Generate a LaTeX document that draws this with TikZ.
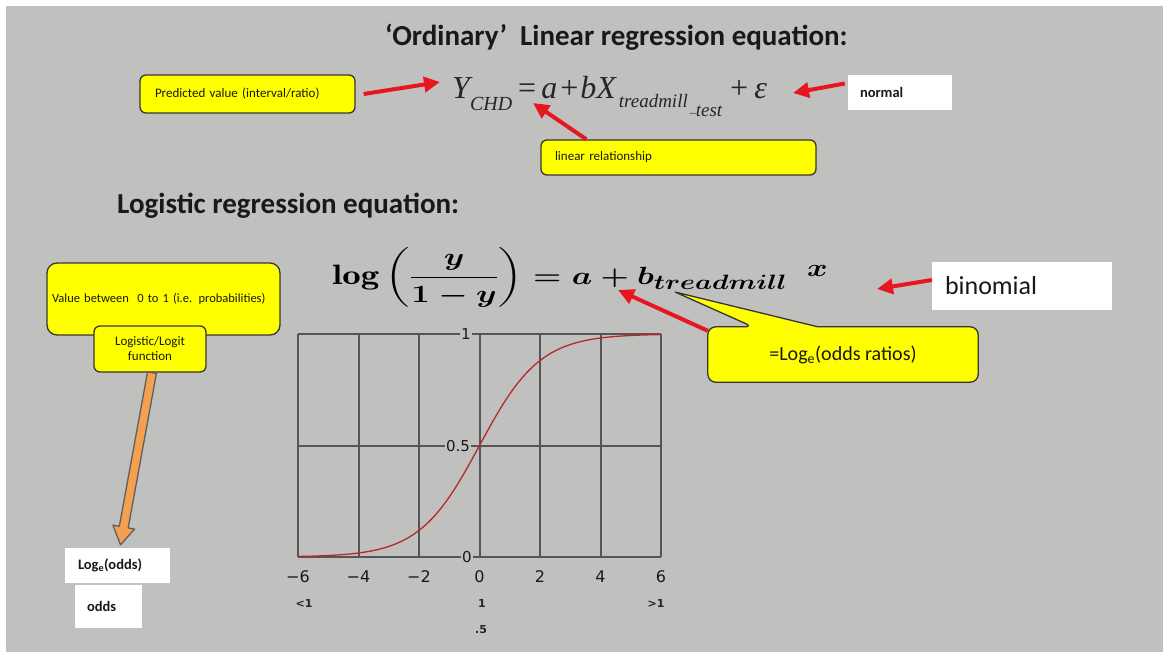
\documentclass[tikz,border=0pt]{standalone}
\usepackage{fontspec}
\usepackage{amsmath}
\usepackage{graphicx}
\usetikzlibrary{arrows.meta,calc}
\newfontfamily\calfont{Carlito}
\newfontfamily\dvfont{DejaVu Sans}
\newfontfamily\tmsfont{Liberation Serif}
\definecolor{bgc}{RGB}{192,192,191}
\definecolor{ylw}{RGB}{255,255,0}
\definecolor{bord}{RGB}{55,55,50}
\definecolor{arrred}{RGB}{232,22,32}
\definecolor{gridc}{RGB}{85,85,85}
\definecolor{curvec}{RGB}{185,40,40}
\definecolor{orng}{RGB}{244,160,80}
\definecolor{ogray}{RGB}{95,95,95}
\definecolor{txt}{RGB}{25,25,20}
\pgfdeclarelayer{back}\pgfdeclarelayer{mid}\pgfsetlayers{back,mid,main}
\newsavebox\eqAbox
\newsavebox\eqBbox
\newsavebox\eqCbox
\begin{document}
\sbox\eqAbox{\fontsize{28}{34}\selectfont\mathversion{bold}\scalebox{1.32}[1]{$\displaystyle\log\left(\frac{y}{1-y}\right)$}}%
\sbox\eqBbox{\fontsize{28}{34}\selectfont\mathversion{bold}\scalebox{1.3}[1]{$=a+b_{treadmill}$}}%
\sbox\eqCbox{\fontsize{30}{34}\selectfont\mathversion{bold}\scalebox{1.25}[1]{$x$}}%
\begin{tikzpicture}[x=1pt,y=-1pt,
  ybox/.style={fill=ylw, draw=bord, line width=1.3pt, rounded corners=6pt, inner sep=0pt, text=txt, font=\calfont\fontsize{13}{15}\selectfont},
  wbox/.style={fill=white, draw=none, inner sep=0pt, text=txt, font=\calfont\bfseries\fontsize{14.5}{16}\selectfont},
  redarrow/.style={draw=arrred, line width=4pt, -{Triangle[length=16pt,width=15pt]}},
  gridline/.style={draw=gridc, line width=2pt},
  ticklab/.style={font=\dvfont\fontsize{16}{18}\selectfont, text=black!90, inner sep=0pt},
  axlab/.style={font=\dvfont\fontsize{15}{18}\selectfont, text=black!90, fill=bgc, inner sep=1pt},
  smalllab/.style={font=\dvfont\bfseries\fontsize{11}{13}\selectfont, text=black!85, inner sep=0pt},
  title/.style={font=\calfont\bfseries\fontsize{29}{34}\selectfont, text=black!90, inner sep=0pt, anchor=base west},
  eqnode/.style={anchor=base west, inner sep=0pt, text=black!90}
]
\useasboundingbox (0,0) rectangle (1165,659);
\begin{pgfonlayer}{back}
\fill[bgc] (6,6) rectangle (1163,652);
\end{pgfonlayer}

% titles
\node[title] (t1) at (385,45) {‘Ordinary’\ \ Linear regression equation:};
\node[title] (t2) at (117,213) {Logistic regression equation:};

% equation 1
\node[anchor=base west, inner sep=0pt, text=black!85, font=\tmsfont\itshape\fontsize{32}{36}\selectfont] (eq1) at (452,98) {Y\raisebox{-12pt}{\fontsize{20}{22}\selectfont CHD}\hspace{6pt}{\upshape =}\hspace{5pt}a\hspace{3pt}{\upshape +}\hspace{2pt}bX\hspace{3pt}\raisebox{-9pt}{\fontsize{19}{22}\selectfont treadmill}\hspace{2pt}\raisebox{-14pt}{\fontsize{12}{14}\selectfont\_}\raisebox{-18pt}{\fontsize{19}{22}\selectfont test}\hspace{8pt}{\upshape +}\hspace{6pt}ε};

% equation 2
\node[eqnode] (eqA) at (332,284) {\usebox\eqAbox};
\node[eqnode] (eqB) at (533,284) {\usebox\eqBbox};
\node[eqnode] (eqC) at (807,276) {\usebox\eqCbox};

% boxes top
\node[ybox, minimum width=215pt, minimum height=38pt, text width=185pt, align=left] (pred) at (247.5,94) {\mbox{Predicted value (interval/ratio)}};
\node[ybox, minimum width=275pt, minimum height=35pt, text width=247pt, align=left] (linrel) at (678.5,157.5) {\mbox{linear relationship}};
\node[wbox, minimum width=104pt, minimum height=35pt, text width=80pt, align=left] (normal) at (900,92.5) {\mbox{normal}};

% boxes left
\node[ybox, rounded corners=10pt, font=\calfont\fontsize{12.5}{15}\selectfont, minimum width=233pt, minimum height=72pt, text width=223pt, align=left] (val) at (163.5,299) {\mbox{Value between\ \ 0 to 1 (i.e. probabilities)}};
\node[ybox, minimum width=112pt, minimum height=46pt, align=center] (logit) at (150,349) {Logistic/Logit\\function};
\node[wbox, minimum width=105pt, minimum height=35pt, text width=79pt, align=left] (logodds) at (117.5,565.5) {\mbox{Log\textsubscript{e}(odds)}};
\node[wbox, minimum width=67pt, minimum height=43pt, text width=43pt, align=left] (odds) at (108.5,606.5) {\mbox{odds}};

% right boxes
\node[wbox, font=\calfont\fontsize{26}{30}\selectfont, minimum width=180pt, minimum height=48pt, text width=154pt, align=left] (binom) at (1022,286) {\mbox{binomial}};
\node[inner sep=0pt, text=txt, font=\calfont\fontsize{20}{24}\selectfont, minimum width=270pt, minimum height=55pt] (lor) at (843,354.5) {=Log\textsubscript{e}(odds ratios)};
\coordinate (ptip) at (675,292);
\begin{pgfonlayer}{mid}
\draw[fill=ylw, draw=bord, line width=1.3pt, rounded corners=8pt]
  (lor.west) -- (lor.north west) -- ([xshift=45pt]lor.north west) [rounded corners=0.5pt] -- (ptip)
  -- ([xshift=110pt]lor.north west) [rounded corners=8pt] -- (lor.north east) -- (lor.south east) -- (lor.south west) -- cycle;
\end{pgfonlayer}

% arrow targets
\coordinate (tY) at (440,82);
\coordinate (teps) at (793,93);
\coordinate (teq) at (533,103);
\coordinate (tplus) at (618,290);
\coordinate (tx) at (877,289);

% red arrows
\draw[redarrow] ([xshift=8pt]pred.east) -- (tY);
\draw[redarrow] ([xshift=-3pt,yshift=9pt]normal.west) -- (teps);
\draw[redarrow] ([xshift=46pt]linrel.north west) -- (teq);
\draw[redarrow] ([yshift=-4pt]lor.north west) -- (tplus);
\draw[redarrow] ([yshift=6pt]binom.west) -- (tx);

% orange arrow
\coordinate (otail) at ([xshift=2pt]logit.south);
\coordinate (otip) at ([xshift=3pt,yshift=3pt]logodds.north);
\coordinate (oh) at ($(otip)!18pt!(otail)$);
\filldraw[fill=orng, draw=ogray, line width=1.3pt, line join=round]
  ($(otail)!4.5pt!90:(otip)$) -- ($(oh)!4.5pt!90:(otip)$) -- ($(oh)!11pt!90:(otip)$) -- (otip)
  -- ($(oh)!11pt!-90:(otip)$) -- ($(oh)!4.5pt!-90:(otip)$) -- ($(otail)!4.5pt!-90:(otip)$) -- cycle;

% graph
\foreach \i in {0,...,6} \draw[gridline] ({298+60.5*\i},334) -- ({298+60.5*\i},557);
\foreach \yy in {334,445.5,557} \draw[gridline] (298,\yy) -- (661,\yy);
\draw[curvec, line width=1.3pt] plot[domain=-6:6, samples=120, smooth] ({479.5+30.25*\x},{557-223/(1+exp(-\x))});
\node[axlab] (l1) at (466,334) {1};
\node[axlab] (l05) at (458,446) {0.5};
\node[axlab] (l0) at (467,557) {0};
\foreach \v/\lab in {-6/−6,-4/−4,-2/−2,0/0,2/2,4/4,6/6}
  \node[ticklab] (tick\v) at ({479.5+30.25*\v},577) {\lab};
\node[smalllab] (lt1) at (304,603) {<1};
\node[smalllab] (one) at (482,603) {1};
\node[smalllab] (gt1) at (656,603) {>1};
\node[smalllab] (half) at (481,630) {.5};
\end{tikzpicture}
\end{document}
